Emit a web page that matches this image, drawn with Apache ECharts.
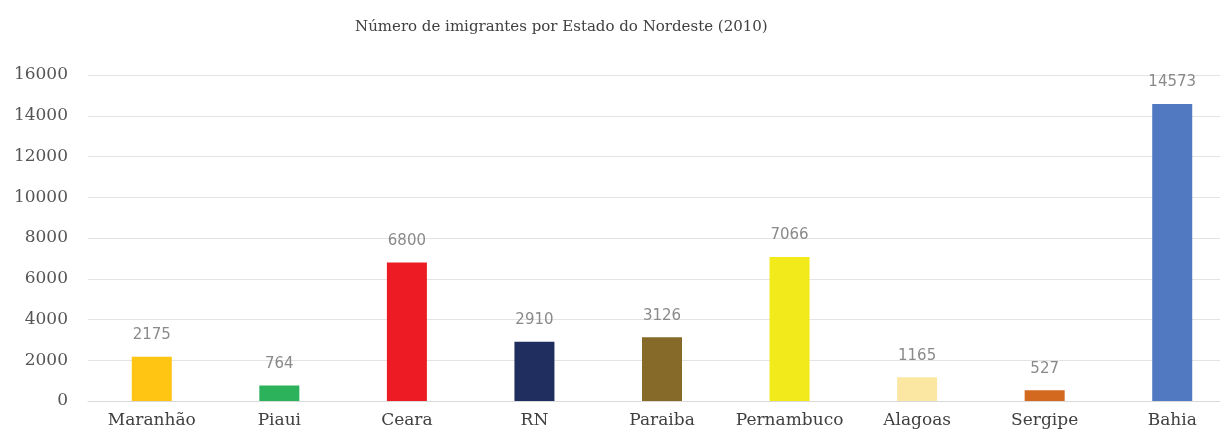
<!DOCTYPE html>
<html>
<head>
<meta charset="utf-8">
<script src="https://cdn.jsdelivr.net/npm/echarts@6/dist/echarts.min.js"></script>
<style>html,body{margin:0;padding:0;background:#fff;overflow:hidden}#c{width:1240px;height:436px}</style>
</head>
<body>
<div id="c"></div>
<script>
const titleText = 'Número de imigrantes por Estado do Nordeste (2010)';
const categories = ['Maranhão', 'Piaui', 'Ceara', 'RN', 'Paraiba', 'Pernambuco', 'Alagoas', 'Sergipe', 'Bahia'];
const values = [2175, 764, 6800, 2910, 3126, 7066, 1165, 527, 14573];
const barColors = ['#FFC512', '#2BB25A', '#ED1C24', '#1F2D5F', '#866A2A', '#F2EA1A', '#FBE6A2', '#D2691E', '#5079C2'];

const chart = echarts.init(document.getElementById('c'));
chart.setOption({
  animation: false,
  backgroundColor: '#fff',
  title: {
    text: titleText,
    left: 350,
    top: 15,
    textStyle: { fontFamily: 'DejaVu Serif', fontSize: 15, fontWeight: 'normal', color: '#404040' }
  },
  grid: { left: 88, right: 4, top: 75, bottom: 35, containLabel: false },
  xAxis: {
    type: 'category',
    data: categories,
    axisLine: { show: true, lineStyle: { color: '#d9d9d9', width: 1 } },
    axisTick: { show: false },
    axisLabel: { interval: 0, fontFamily: 'DejaVu Serif', fontSize: 17, color: '#404040', margin: 11 }
  },
  yAxis: {
    type: 'value',
    min: 0, max: 16000, interval: 2000,
    axisLine: { show: false },
    axisTick: { show: false },
    splitLine: { lineStyle: { color: '#e3e3e3', width: 1 } },
    axisLabel: { formatter: v => String(v), fontFamily: 'DejaVu Serif', fontSize: 17, color: '#555555', margin: 20 }
  },
  series: [{
    type: 'bar',
    data: values.map((v, i) => ({ value: v, itemStyle: { color: barColors[i] } })),
    barWidth: 40,
    label: {
      show: true, position: 'top', distance: 14,
      fontFamily: 'DejaVu Sans', fontSize: 15, color: '#8a8a8a'
    }
  }]
});
</script>
</body>
</html>
